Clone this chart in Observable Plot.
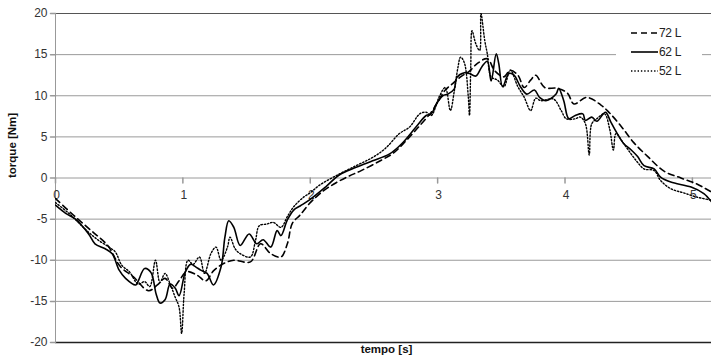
<!DOCTYPE html>
<html><head><meta charset="utf-8">
<script src="https://cdn.jsdelivr.net/npm/d3@7"></script>
<script src="https://cdn.jsdelivr.net/npm/@observablehq/plot@0.6"></script>
<style>
body{margin:0;background:#fff;font-family:"Liberation Sans",Arial,sans-serif;}
#wrap{position:relative;width:711px;height:359px;overflow:hidden;}
#legend{position:absolute;left:616px;top:23px;width:86px;height:58px;background:#fff;font-size:12px;color:#222;}
.row{position:absolute;left:0;height:14px;display:flex;align-items:center;}
.row svg{margin-left:15px;margin-right:1px;}
</style></head><body><div id="wrap"><div id="legend"></div></div>
<script>
// ---- data ----
const seriesNames = ["72 L", "62 L", "52 L"];
const xTicks = [0, 1, 2, 3, 4, 5];
const yTicks = [-20, -15, -10, -5, 0, 5, 10, 15, 20];
const xLabel = "tempo [s]";
const yLabel = "torque [Nm]";

const t72 = [0, 0.14, 0.28, 0.41, 0.51, 0.61, 0.73, 0.80, 0.86, 0.92, 0.97, 1.03, 1.11, 1.18, 1.24, 1.32, 1.40, 1.53, 1.61, 1.69, 1.77, 1.82, 1.86, 1.92, 2.00, 2.10, 2.20, 2.30, 2.40, 2.55, 2.65, 2.75, 2.85, 2.95, 3.00, 3.06, 3.12, 3.18, 3.25, 3.31, 3.39, 3.45, 3.52, 3.57, 3.63, 3.68, 3.73, 3.77, 3.84, 3.94, 4.02, 4.07, 4.17, 4.28, 4.35, 4.44, 4.54, 4.65, 4.78, 4.91, 5.03, 5.15];
const v72 = [-2.5, -4.5, -6.4, -8.2, -10.8, -12.0, -13.7, -13.0, -12.2, -13.4, -12.5, -11.4, -11.8, -12.5, -11.3, -10.4, -10.0, -10.2, -8.0, -9.2, -9.6, -8.0, -5.5, -4.5, -3.0, -1.6, -0.6, 0.2, 0.9, 2.1, 3.0, 4.5, 6.2, 8.0, 9.2, 10.7, 11.5, 12.3, 13.0, 13.9, 14.5, 13.0, 12.3, 13.1, 12.5, 11.0, 11.9, 12.5, 11.0, 10.9, 10.3, 9.0, 9.8, 8.9, 7.9, 6.3, 4.3, 2.6, 0.8, 0.0, -0.7, -1.7];

const t62 = [0.00, 0.08, 0.157, 0.26, 0.31, 0.39, 0.445, 0.50, 0.55, 0.63, 0.65, 0.70, 0.75, 0.79, 0.82, 0.86, 0.90, 0.94, 0.97, 1.02, 1.06, 1.10, 1.14, 1.19, 1.24, 1.30, 1.33, 1.36, 1.40, 1.45, 1.52, 1.58, 1.63, 1.69, 1.74, 1.77, 1.82, 1.87, 1.92, 2.00, 2.12, 2.23, 2.36, 2.49, 2.62, 2.72, 2.83, 2.91, 2.95, 2.99, 3.04, 3.08, 3.13, 3.15, 3.21, 3.25, 3.30, 3.35, 3.39, 3.42, 3.46, 3.48, 3.51, 3.56, 3.60, 3.65, 3.70, 3.76, 3.80, 3.85, 3.93, 3.95, 3.99, 4.03, 4.08, 4.14, 4.16, 4.21, 4.25, 4.30, 4.32, 4.36, 4.41, 4.46, 4.52, 4.57, 4.62, 4.70, 4.75, 4.83, 4.99, 5.09, 5.15];
const v62 = [-3.3, -4.3, -5.0, -6.8, -8.0, -8.6, -9.2, -11.2, -12.2, -13.0, -12.5, -11.0, -11.5, -14.1, -15.2, -14.8, -12.9, -13.4, -14.3, -11.4, -10.5, -10.8, -11.2, -11.6, -13.0, -10.8, -7.2, -5.2, -6.0, -8.2, -6.8, -8.0, -7.5, -8.4, -6.4, -7.0, -5.1, -3.9, -3.4, -2.6, -1.1, 0.4, 1.3, 2.1, 2.9, 4.2, 6.2, 7.6, 7.8, 9.0, 10.0, 10.2, 10.8, 12.2, 12.8, 12.7, 12.4, 13.6, 14.2, 11.8, 15.1, 13.9, 11.1, 12.7, 12.5, 11.1, 10.2, 10.7, 9.8, 9.4, 10.2, 10.9, 9.4, 7.2, 7.6, 7.8, 7.0, 7.4, 6.9, 7.8, 8.0, 6.8, 5.4, 4.2, 3.4, 2.6, 1.5, 1.1, 0.1, -0.5, -1.1, -1.9, -2.9];

const t52 = [0.00, 0.105, 0.26, 0.34, 0.42, 0.47, 0.52, 0.58, 0.65, 0.70, 0.74, 0.785, 0.82, 0.86, 0.90, 0.94, 0.97, 0.99, 1.01, 1.04, 1.08, 1.13, 1.17, 1.22, 1.26, 1.30, 1.35, 1.37, 1.41, 1.45, 1.53, 1.57, 1.60, 1.66, 1.71, 1.77, 1.82, 1.87, 1.95, 2.00, 2.07, 2.23, 2.36, 2.49, 2.59, 2.70, 2.78, 2.86, 2.91, 2.95, 3.01, 3.06, 3.10, 3.13, 3.16, 3.18, 3.21, 3.24, 3.25, 3.26, 3.27, 3.30, 3.33, 3.34, 3.37, 3.39, 3.42, 3.47, 3.52, 3.57, 3.63, 3.68, 3.73, 3.77, 3.81, 3.91, 3.97, 4.01, 4.08, 4.12, 4.16, 4.19, 4.21, 4.25, 4.31, 4.35, 4.38, 4.40, 4.46, 4.52, 4.57, 4.62, 4.70, 4.75, 4.83, 4.93, 5.03, 5.15];
const v52 = [-3.0, -4.3, -6.6, -7.6, -8.4, -9.0, -10.6, -11.4, -12.9, -12.6, -13.2, -10.0, -12.7, -11.6, -12.9, -14.5, -15.7, -18.9, -14.0, -10.0, -10.5, -9.6, -11.6, -9.2, -8.4, -10.0, -8.4, -7.2, -8.6, -9.2, -9.6, -7.6, -5.8, -5.6, -5.4, -6.0, -4.7, -3.5, -2.3, -1.8, -0.9, 0.5, 1.5, 2.5, 3.6, 5.4, 6.2, 7.8, 8.0, 7.6, 9.8, 11.0, 8.2, 10.5, 13.5, 14.7, 14.0, 10.0, 7.6, 13.5, 17.9, 16.3, 15.5, 20.0, 16.7, 15.1, 12.3, 11.9, 11.1, 13.1, 11.1, 9.8, 8.2, 9.7, 9.4, 9.6, 8.2, 7.2, 7.2, 7.4, 6.6, 2.8, 6.6, 7.2, 7.8, 6.0, 3.4, 5.4, 4.2, 2.9, 1.9, 1.1, 0.9, -0.3, -1.3, -1.8, -2.3, -2.7];

// ---- tables built from the arrays ----
const zip = (ts, vs) => ts.map((t, i) => ({t, v: vs[i]}));
const d72 = zip(t72, v72), d62 = zip(t62, v62), d52 = zip(t52, v52);
const dashes = ["6,4", null, "1.4,1.9"];
const widths = [1.6, 1.6, 1.4];

const lineOpts = (i) => ({x: "t", y: "v", stroke: "#000", strokeWidth: widths[i], curve: "catmull-rom", strokeDasharray: dashes[i], clip: true});

const chart = Plot.plot({
  width: 711, height: 359,
  marginLeft: 55, marginRight: 0, marginTop: 13, marginBottom: 17,
  x: {domain: [0, 5.15], axis: null},
  y: {domain: [-20, 20], axis: null},
  style: {fontFamily: "'Liberation Sans', Arial, sans-serif", fontSize: "12px", background: "#fff", color: "#222"},
  marks: [
    Plot.gridY(yTicks, {stroke: "#9a9a9a", strokeOpacity: 1}),
    Plot.ruleY([yTicks[yTicks.length - 1]], {stroke: "#555"}),
    Plot.ruleY([yTicks[0]], {stroke: "#222", strokeWidth: 1.5}),
    Plot.ruleX([0], {stroke: "#999"}),
    Plot.vector(yTicks, {x: 0, y: d => d, length: 5, rotate: -90, anchor: "start", r: 0, stroke: "#999"}),
    Plot.text(yTicks, {x: 0, y: d => d, text: d => String(d), dx: -8, textAnchor: "end", fill: "#333"}),
    Plot.vector(xTicks, {x: d => d, y: 0, length: 5, rotate: 180, anchor: "start", r: 0, stroke: "#999"}),
    Plot.text(xTicks, {x: d => d, y: 0, text: d => String(d), dy: 17, dx: 1, fill: "#333"}),
    Plot.line(d72, lineOpts(0)),
    Plot.line(d62, lineOpts(1)),
    Plot.line(d52, lineOpts(2)),
    Plot.text([yLabel], {frameAnchor: "left", dx: -43, rotate: -90, fontWeight: "bold", fontSize: 11.5, fill: "#111"}),
    Plot.text([xLabel], {frameAnchor: "bottom", dy: 10, dx: 3, fontWeight: "bold", fontSize: 11.5, fill: "#111"})
  ]
});
const wrap = document.getElementById("wrap");
wrap.insertBefore(chart, wrap.firstChild);

// legend
const legend = document.getElementById("legend");
seriesNames.forEach((name, i) => {
  const row = document.createElement("div");
  row.className = "row";
  row.style.top = (3 + i * 19) + "px";
  const ns = "http://www.w3.org/2000/svg";
  const s = document.createElementNS(ns, "svg");
  s.setAttribute("width", 27); s.setAttribute("height", 6);
  const l = document.createElementNS(ns, "line");
  l.setAttribute("x1", 0); l.setAttribute("x2", 27); l.setAttribute("y1", 3); l.setAttribute("y2", 3);
  l.setAttribute("stroke", "#000"); l.setAttribute("stroke-width", widths[i]);
  if (dashes[i]) l.setAttribute("stroke-dasharray", dashes[i]);
  s.appendChild(l);
  row.appendChild(s);
  const sp = document.createElement("span");
  sp.textContent = name;
  sp.style.letterSpacing = "-0.3px";
  row.appendChild(sp);
  legend.appendChild(row);
});
</script>
</body></html>
